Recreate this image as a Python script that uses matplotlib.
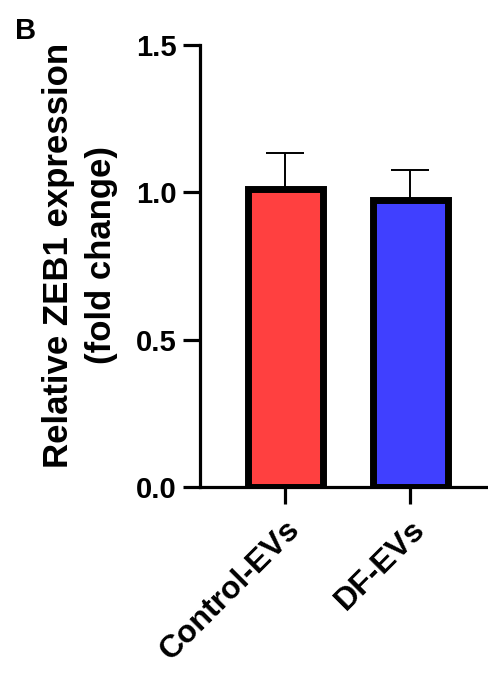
import matplotlib.pyplot as plt
from matplotlib import font_manager as fm
from matplotlib.transforms import ScaledTranslation

# Data
groups = ['Control-EVs', 'DF-EVs']
means = [1.01, 0.975]
sd = [0.125, 0.10]
colors = ['#FF4040', '#4040FF']

# pick the regular-width Liberation Sans Bold (not Narrow)
bold_file = None
for f in fm.findSystemFonts():
    if f.endswith('LiberationSans-Bold.ttf'):
        bold_file = f

def fp(size):
    if bold_file:
        return fm.FontProperties(fname=bold_file, size=size)
    return fm.FontProperties(family='DejaVu Sans', weight='bold', size=size)

fig = plt.figure(figsize=(4.88, 6.73), dpi=100)
ax = fig.add_axes([0.41, 0.2764, 0.59, 0.6566])

x = range(len(groups))
ax.errorbar(x, means, yerr=[[0] * len(sd), sd], fmt='none', ecolor='black',
            elinewidth=1.4, capsize=14, capthick=1.4, zorder=1)
ax.bar(x, means, width=0.6, color=colors, edgecolor='black', linewidth=5, zorder=2)

ax.set_xlim(-0.68, 1.624)
ax.set_ylim(0, 1.5)
ax.set_yticks([0.0, 0.5, 1.0, 1.5])
ax.set_yticklabels(['0.0', '0.5', '1.0', '1.5'], fontproperties=fp(21))
ax.set_xticks(list(x))
ax.set_xticklabels(groups, rotation=45, ha='right', rotation_mode='anchor',
                   fontproperties=fp(23))
shift = ScaledTranslation(-7 / 100, -3 / 100, fig.dpi_scale_trans)
for lab in ax.get_xticklabels():
    lab.set_transform(lab.get_transform() + shift)

for s in ['top', 'right']:
    ax.spines[s].set_visible(False)
for s in ['left', 'bottom']:
    ax.spines[s].set_linewidth(2.3)

ax.tick_params(axis='y', length=12, width=2.3, pad=5)
ax.tick_params(axis='x', length=12, width=2.3, pad=8)

ax.set_ylabel('Relative ZEB1 expression\n(fold change)', fontproperties=fp(25),
              linespacing=1.38)
ax.yaxis.set_label_coords(-0.285, 0.525)

fig.text(0.03, 0.975, 'B', fontproperties=fp(21), va='top', ha='left')

fig.savefig('out.png', dpi=100)
